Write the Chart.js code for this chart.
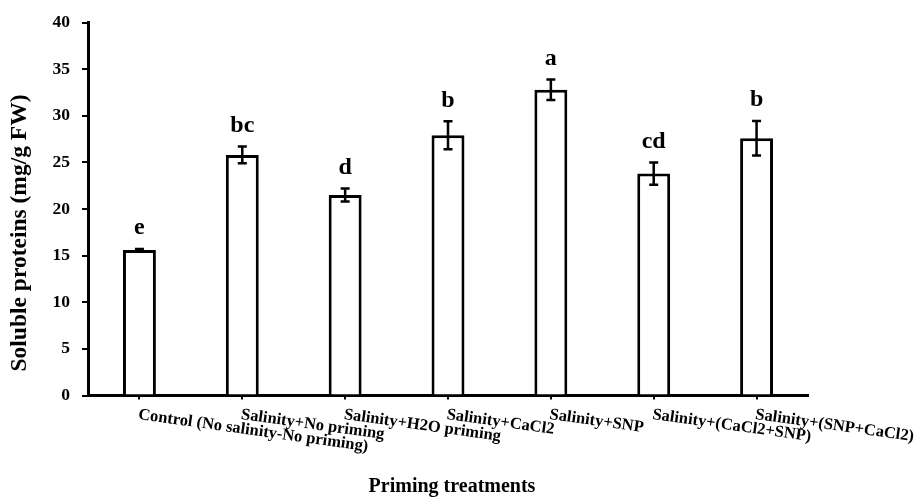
<!DOCTYPE html>
<html>
<head>
<meta charset="utf-8">
<script src="https://cdn.jsdelivr.net/npm/chart.js@4"></script>
<style>
  html, body { margin: 0; padding: 0; background: #ffffff; }
  canvas { display: block; }
</style>
</head>
<body>
<canvas id="chart" width="921" height="500"></canvas>
<script>
// Treatments along the x axis
const categories = [
  'Control (No salinity-No priming)',
  'Salinity+No priming',
  'Salinity+H2O priming',
  'Salinity+CaCl2',
  'Salinity+SNP',
  'Salinity+(CaCl2+SNP)',
  'Salinity+(SNP+CaCl2)'
];
// Mean soluble protein content (mg/g FW) and its standard error
const solubleProteins = [15.6, 25.8, 21.5, 27.9, 32.8, 23.8, 27.6];
const standardErrors  = [0.1, 0.9, 0.7, 1.5, 1.1, 1.2, 1.85];
// Duncan grouping letters
const groupLetters = ['e', 'bc', 'd', 'b', 'a', 'cd', 'b'];
// Y axis tick values
const yTickValues = [0, 5, 10, 15, 20, 25, 30, 35, 40];

const SERIF = '"Liberation Serif", "Times New Roman", serif';

// Error bars, group letters, slanted category labels and axis titles
const annotations = {
  id: 'annotations',
  afterDatasetsDraw(chart) {
    const ctx = chart.ctx;
    const ys = chart.scales.y;
    const bars = chart.getDatasetMeta(0).data;
    ctx.save();
    ctx.strokeStyle = '#000';
    ctx.fillStyle = '#000';
    ctx.lineWidth = 2.5;
    bars.forEach((bar, i) => {
      const hi = ys.getPixelForValue(solubleProteins[i] + standardErrors[i]);
      const lo = ys.getPixelForValue(solubleProteins[i] - standardErrors[i]);
      ctx.beginPath();
      ctx.moveTo(bar.x, hi); ctx.lineTo(bar.x, lo);
      ctx.moveTo(bar.x - 4.5, hi); ctx.lineTo(bar.x + 4.5, hi);
      ctx.moveTo(bar.x - 4.5, lo); ctx.lineTo(bar.x + 4.5, lo);
      ctx.stroke();
      ctx.font = 'bold 24px ' + SERIF;
      ctx.textAlign = 'center';
      ctx.textBaseline = 'middle';
      ctx.fillText(groupLetters[i], bar.x, hi - 21);
    });
    ctx.restore();
  },
  afterDraw(chart) {
    const ctx = chart.ctx;
    const xs = chart.scales.x;
    const area = chart.chartArea;
    ctx.save();
    ctx.fillStyle = '#000';
    ctx.font = 'bold 16.5px ' + SERIF;
    ctx.textAlign = 'left';
    ctx.textBaseline = 'top';
    categories.forEach((label, i) => {
      ctx.save();
      ctx.translate(xs.getPixelForTick(i), area.bottom + 11);
      ctx.rotate(8 * Math.PI / 180);
      ctx.fillText(label, 0, 0);
      ctx.restore();
    });
    // Axis titles
    ctx.textAlign = 'center';
    ctx.textBaseline = 'middle';
    ctx.font = 'bold 20px ' + SERIF;
    ctx.fillText('Priming treatments', (area.left + area.right) / 2 + 4, 487);
    ctx.save();
    ctx.translate(20, 233);
    ctx.rotate(-Math.PI / 2);
    ctx.font = 'bold 23.5px ' + SERIF;
    ctx.fillText('Soluble proteins (mg/g FW)', 0, 0);
    ctx.restore();
    ctx.restore();
  }
};

new Chart(document.getElementById('chart'), {
  type: 'bar',
  data: {
    labels: categories,
    datasets: [{
      data: solubleProteins,
      backgroundColor: '#ffffff',
      borderColor: '#000000',
      borderWidth: 3,
      borderSkipped: 'start',
      categoryPercentage: 1,
      barPercentage: 0.32
    }]
  },
  options: {
    responsive: false,
    devicePixelRatio: 1,
    animation: false,
    events: [],
    layout: { padding: { top: 14, right: 113, bottom: 0, left: 0 } },
    plugins: {
      legend: { display: false },
      tooltip: { enabled: false },
      title: { display: false }
    },
    scales: {
      x: {
        grid: {
          display: true,
          drawOnChartArea: false,
          drawTicks: true,
          tickLength: 4,
          offset: false,
          color: '#000',
          lineWidth: 2
        },
        border: { display: true, color: '#000', width: 3 },
        ticks: { display: false },
        afterFit(scale) { scale.height = 104.5; }
      },
      y: {
        min: 0,
        max: 40,
        afterBuildTicks(scale) {
          scale.ticks = yTickValues.map(v => ({ value: v }));
        },
        grid: {
          display: true,
          drawOnChartArea: false,
          drawTicks: true,
          tickLength: 6,
          color: '#000',
          lineWidth: 2
        },
        border: { display: true, color: '#000', width: 3 },
        ticks: {
          color: '#000',
          padding: 12,
          font: { family: SERIF, size: 17.5, weight: 'bold' }
        },
        afterFit(scale) { scale.width = 88; }
      }
    }
  },
  plugins: [annotations]
});
</script>
</body>
</html>
